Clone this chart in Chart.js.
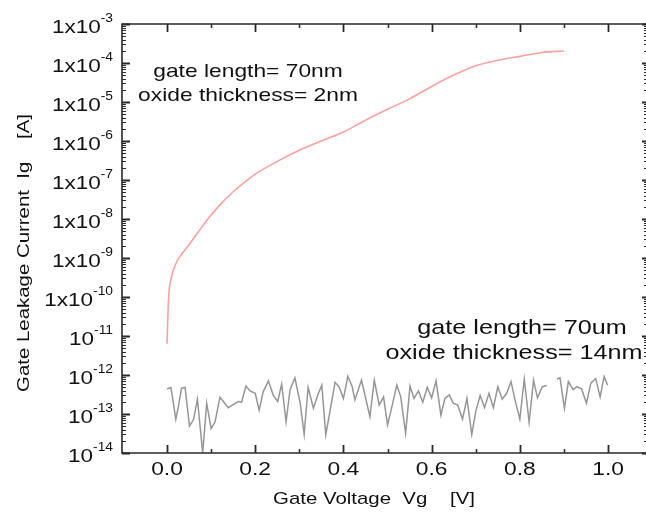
<!DOCTYPE html>
<html>
<head>
<meta charset="utf-8">
<script src="https://cdn.jsdelivr.net/npm/chart.js@4.4.1/dist/chart.umd.min.js"></script>
<style>
  html, body { margin: 0; padding: 0; background: #fff; }
  canvas { display: block; }
</style>
</head>
<body>
<canvas id="leakage" width="646" height="517"></canvas>
<script>
// 70nm gate / 2nm oxide device
const thinVg = [0, 0.002, 0.004, 0.01, 0.02, 0.03, 0.05, 0.07, 0.09, 0.12, 0.15, 0.18, 0.2, 0.25,
  0.3, 0.35, 0.4, 0.45, 0.5, 0.55, 0.6, 0.65, 0.7, 0.75, 0.8, 0.85, 0.9];
const thinIg = [6.3e-12, 3.2e-11, 1.1e-10, 3.2e-10, 7.1e-10, 1.12e-9, 2.2e-9, 4.5e-9, 9.1e-9, 2.3e-8,
  5.0e-8, 9.5e-8, 1.41e-7, 3.0e-7, 5.8e-7, 1.0e-6, 1.7e-6, 3.4e-6, 6.5e-6, 1.2e-5, 2.5e-5, 4.9e-5,
  8.5e-5, 1.17e-4, 1.48e-4, 1.86e-4, 2.04e-4];

// 70um gate / 14nm oxide device (noise floor), null = gap in the trace
const thickVg = [0, 0.009, 0.020, 0.026, 0.033, 0.041, 0.051, 0.060, 0.069, 0.081, 0.090, 0.100,
  0.109, 0.120, 0.139, 0.152, 0.162, 0.169, 0.179, 0.188, 0.200, 0.209, 0.218, 0.230, 0.241, 0.251,
  0.260, 0.270, 0.279, 0.290, 0.302, 0.311, 0.320, 0.332, 0.342, 0.351, 0.360, 0.370, 0.381, 0.390,
  0.400, 0.410, 0.420, 0.426, 0.441, 0.460, 0.470, 0.481, 0.491, 0.500, 0.510, 0.521, 0.530, 0.541,
  0.551, 0.560, 0.570, 0.580, 0.590, 0.600, 0.610, 0.621, 0.630, 0.640, 0.649, 0.659, 0.670, 0.680,
  0.691, 0.700, 0.710, 0.720, 0.730, 0.740, 0.750, 0.760, 0.770, 0.780, 0.789, 0.800, 0.810, 0.821,
  0.831, 0.840, 0.851, 0.861, 0.872, 0.884, 0.891, 0.901, 0.910, 0.921, 0.929, 0.940, 0.951, 0.961,
  0.972, 0.982, 0.991, 0.999];
const thickIg = [4.4e-13, 4.8e-13, 7.4e-14, 1.6e-13, 4.6e-13, 4.8e-13, 4.9e-14, 7.1e-14, 2.4e-13,
  1.0e-14, 1.9e-13, 4.2e-14, 6.3e-14, 2.7e-13, 1.45e-13, 1.8e-13, 2.1e-13, 2.0e-13, 5.2e-13, 3.9e-13,
  3.4e-13, 1.26e-13, 3.7e-13, 7.1e-13, 3.0e-13, 2.1e-13, 5.8e-13, 6.3e-14, 4.2e-13, 8.5e-13, 1.9e-13,
  3.0e-14, 4.8e-13, 1.4e-13, 3.1e-13, 5.5e-13, 2.9e-14, 1.26e-13, 6.5e-13, 5.0e-13, 2.5e-13, 9.3e-13,
  5.0e-13, 2.3e-13, 7.4e-13, 8.5e-14, 7.4e-13, 1.7e-13, 2.75e-13, 5.2e-14, 1.55e-13, 5.5e-13,
  2.75e-13, 3.2e-14, 5.2e-13, 2.5e-13, 3.9e-13, 2.0e-13, 4.8e-13, 2.6e-13, 7.1e-13, 9.3e-14, 2.5e-13,
  3.1e-13, 1.9e-13, 1.7e-13, 7.4e-14, 2.5e-13, 3.0e-14, 1.15e-13, 3.0e-13, 1.45e-13, 3.4e-13,
  1.45e-13, 5.0e-13, 2.4e-13, 3.4e-13, 6.8e-13, 2.3e-13, 7.4e-14, 7.9e-13, 6.2e-14, 7.4e-13, 2.6e-13,
  5.0e-13, 5.4e-13, null, 7.9e-13, 8.5e-13, 1.4e-13, 6.8e-13, 4.2e-13, 5.0e-13, 4.4e-13, 1.9e-13,
  6.2e-13, 8.1e-13, 2.75e-13, 9.1e-13, 5.5e-13];

const xMajorTicks = [0, 0.2, 0.4, 0.6, 0.8, 1.0];
const xTickLabels = ['0.0', '0.2', '0.4', '0.6', '0.8', '1.0'];
const xMinorTicks = [0.1, 0.3, 0.5, 0.7, 0.9];
const yDecades = [-3, -4, -5, -6, -7, -8, -9, -10, -11, -12, -13, -14];
const yTickBases = ['1x10', '1x10', '1x10', '1x10', '1x10', '1x10', '1x10', '1x10', '10', '10', '10', '10'];

const FONT = '"Liberation Sans", Arial, sans-serif';
const STRETCH = 1.2; // the original lettering is wider than Arial

function wideText(ctx, text, x, y, align, stretch) {
  const sx = stretch || STRETCH;
  const w = ctx.measureText(text).width * sx;
  let left = x;
  if (align === 'right') left = x - w;
  if (align === 'center') left = x - w / 2;
  ctx.save();
  ctx.translate(left, y);
  ctx.scale(sx, 1);
  ctx.textAlign = 'left';
  ctx.fillText(text, 0, 0);
  ctx.restore();
  return w;
}

const frameAndLabels = {
  id: 'frameAndLabels',
  afterDraw(chart) {
    const { ctx, chartArea: a, scales } = chart;
    const xs = scales.x, ys = scales.y;
    ctx.save();
    ctx.strokeStyle = '#2a2a2a';
    ctx.fillStyle = '#111';

    // frame (right side lies outside the picture)
    ctx.lineWidth = 1.6;
    ctx.beginPath();
    ctx.moveTo(a.right + 2, a.top);
    ctx.lineTo(a.left, a.top);
    ctx.lineTo(a.left, a.bottom);
    ctx.lineTo(a.right + 2, a.bottom);
    ctx.stroke();

    // x ticks, pointing inwards on top and bottom
    const xTick = (v, len) => {
      const px = Math.round(xs.getPixelForValue(v)) + 0.5;
      ctx.beginPath();
      ctx.moveTo(px, a.bottom); ctx.lineTo(px, a.bottom - len);
      ctx.moveTo(px, a.top); ctx.lineTo(px, a.top + len);
      ctx.stroke();
    };
    ctx.lineWidth = 1.8;
    xMajorTicks.forEach(v => xTick(v, 8));
    ctx.lineWidth = 1.5;
    xMinorTicks.forEach(v => xTick(v, 4));

    // y ticks, decades plus 2..9 minors
    const yTick = (v, len, rlen) => {
      const py = Math.round(ys.getPixelForValue(v)) + 0.5;
      ctx.beginPath();
      ctx.moveTo(a.left, py); ctx.lineTo(a.left + len, py);
      ctx.moveTo(a.right, py); ctx.lineTo(a.right - rlen, py);
      ctx.stroke();
    };
    yDecades.forEach(e => {
      ctx.lineWidth = 1.8;
      yTick(Math.pow(10, e), 8, 4);
      if (e > -3) return;
      ctx.lineWidth = 1;
      for (let k = 2; k <= 9; k++) {
        const v = k * Math.pow(10, e);
        if (v < 1e-3) yTick(v, 4, 2);
      }
    });

    // y tick labels with superscript exponents
    ctx.textBaseline = 'alphabetic';
    yDecades.forEach((e, i) => {
      const py = ys.getPixelForValue(Math.pow(10, e));
      const sup = String(e);
      ctx.font = '12px ' + FONT;
      const supW = ctx.measureText(sup).width * 1.15;
      const right = a.left - 9;
      wideText(ctx, sup, right - supW, py - 2, 'left', 1.15);
      ctx.font = '18px ' + FONT;
      wideText(ctx, yTickBases[i], right - supW, py + 9, 'right', 1.25);
    });

    // x tick labels
    ctx.font = '19px ' + FONT;
    xMajorTicks.forEach((v, i) => {
      wideText(ctx, xTickLabels[i], xs.getPixelForValue(v), a.bottom + 22, 'center');
    });

    // axis titles
    ctx.font = '17px ' + FONT;
    wideText(ctx, 'Gate Voltage  Vg    [V]', 374, 504, 'center');
    ctx.save();
    ctx.translate(24, 253);
    ctx.rotate(-Math.PI / 2);
    ctx.textBaseline = 'middle';
    wideText(ctx, 'Gate Leakage Current  Ig    [A]', 0, 0, 'center');
    ctx.restore();

    // device annotations
    ctx.font = '19px ' + FONT;
    ctx.textBaseline = 'alphabetic';
    wideText(ctx, 'gate length= 70nm', 248, 77, 'center');
    wideText(ctx, 'oxide thickness= 2nm', 248, 101, 'center');
    ctx.font = '21px ' + FONT;
    wideText(ctx, 'gate length= 70um', 522, 334, 'center');
    wideText(ctx, 'oxide thickness= 14nm', 514, 359, 'center');

    ctx.restore();
  }
};

new Chart('leakage', {
  type: 'line',
  data: {
    datasets: [
      {
        label: 'gate length 70nm, oxide 2nm',
        data: thinVg.map((v, i) => ({ x: v, y: thinIg[i] })),
        borderColor: 'rgb(255, 160, 160)',
        borderWidth: 1.6,
        pointRadius: 0,
        cubicInterpolationMode: 'monotone',
        fill: false,
      },
      {
        label: 'gate length 70um, oxide 14nm',
        data: thickVg.map((v, i) => ({ x: v, y: thickIg[i] })),
        borderColor: 'rgb(150, 150, 150)',
        borderWidth: 1.5,
        pointRadius: 0,
        tension: 0,
        spanGaps: false,
        fill: false,
      },
    ],
  },
  options: {
    responsive: false,
    animation: false,
    events: [],
    layout: { padding: { left: 122, top: 24, right: 0, bottom: 64 } },
    plugins: {
      legend: { display: false },
      tooltip: { enabled: false },
    },
    scales: {
      x: { type: 'linear', min: -0.102, max: 1.086, display: false },
      y: { type: 'logarithmic', min: 1e-14, max: 1e-3, display: false },
    },
  },
  plugins: [frameAndLabels],
});
</script>
</body>
</html>
